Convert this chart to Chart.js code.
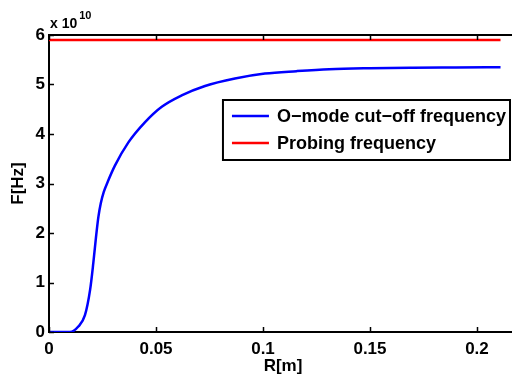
<!DOCTYPE html>
<html>
<head>
<meta charset="utf-8">
<script src="https://cdn.jsdelivr.net/npm/chart.js@4.4.0/dist/chart.umd.min.js"></script>
<style>
  html, body { margin: 0; padding: 0; background: #fff; overflow: hidden; width: 512px; height: 377px; }
  #wrap { position: absolute; left: 0; top: 0; width: 530px; height: 377px; }
</style>
</head>
<body>
<div id="wrap"><canvas id="c" width="530" height="377"></canvas></div>
<script>
// ---- data (x in metres, y in units of 1e10 Hz) ----
const radius = [0, 0.005, 0.0098, 0.0137, 0.0168, 0.0192, 0.0207, 0.022, 0.0231, 0.0242, 0.0256, 0.0275, 0.0308, 0.0371, 0.0449, 0.0527, 0.062, 0.0729, 0.0869, 0.1009, 0.1157, 0.131, 0.15, 0.17, 0.19, 0.211];
const cutoffFreq = [0, 0, 0, 0.11, 0.34, 0.85, 1.39, 1.93, 2.33, 2.60, 2.83, 3.04, 3.36, 3.83, 4.24, 4.55, 4.78, 4.97, 5.12, 5.22, 5.27, 5.31, 5.33, 5.34, 5.345, 5.35];
const probeRadius = [0, 0.211];
const probeFreq = [5.9, 5.9];
const seriesLabels = ['O\u2212mode cut\u2212off frequency', 'Probing frequency'];
const xTicks = [0, 0.05, 0.1, 0.15, 0.2];
const yTicks = [0, 1, 2, 3, 4, 5, 6];
const exponentLabel = ['x 10', '10'];
const SCALE = 1e10;

const FONT = '"Liberation Sans", Arial, Helvetica, sans-serif';
const TICK_SIZE = 17;

const toPts = (xs, ys) => xs.map((x, i) => ({ x: x, y: ys[i] * SCALE }));

const inwardTicks = {
  id: 'inwardTicks',
  afterDraw(chart) {
    const ctx = chart.ctx, ca = chart.chartArea;
    const xs = chart.scales.x, ys = chart.scales.y;
    ctx.save();
    ctx.strokeStyle = '#000';
    ctx.lineWidth = 2;
    ctx.beginPath();
    ctx.moveTo(ca.left - 1, ca.top);
    ctx.lineTo(ca.right, ca.top);
    ctx.stroke();
    const L = 5;
    ctx.lineWidth = 1.5;
    xTicks.forEach(v => {
      const px = Math.round(xs.getPixelForValue(v)) + 0.5;
      ctx.beginPath();
      ctx.moveTo(px, ca.bottom); ctx.lineTo(px, ca.bottom - L);
      ctx.moveTo(px, ca.top); ctx.lineTo(px, ca.top + L);
      ctx.stroke();
    });
    yTicks.forEach(v => {
      const py = Math.round(ys.getPixelForValue(v * SCALE)) + 0.5;
      ctx.beginPath();
      ctx.moveTo(ca.left, py); ctx.lineTo(ca.left + L, py);
      ctx.stroke();
    });
    ctx.fillStyle = '#000';
    ctx.textBaseline = 'alphabetic';
    ctx.textAlign = 'left';
    ctx.font = 'bold 14px ' + FONT;
    ctx.fillText(exponentLabel[0], ca.left + 1, ca.top - 7);
    const w = ctx.measureText(exponentLabel[0]).width;
    ctx.font = 'bold 11px ' + FONT;
    ctx.fillText(exponentLabel[1], ca.left + 1 + w + 2, ca.top - 16);
    ctx.restore();
  }
};

const boxLegend = {
  id: 'boxLegend',
  afterDraw(chart) {
    const ctx = chart.ctx, ca = chart.chartArea;
    ctx.save();
    ctx.font = 'bold 18px ' + FONT;
    const right = 510, top = ca.top + 65;
    const rowH = 27;
    const textW = Math.max(...chart.data.datasets.map(d => ctx.measureText(d.label).width));
    const boxW = Math.max(285, 9 + 37 + 8 + textW + 4);
    const boxH = 60;
    const left = right - boxW;
    ctx.fillStyle = '#fff';
    ctx.fillRect(left, top, boxW, boxH);
    ctx.strokeStyle = '#000';
    ctx.lineWidth = 2;
    ctx.strokeRect(left, top, boxW, boxH);
    chart.data.datasets.forEach((d, i) => {
      const y = top + 16 + i * rowH;
      ctx.strokeStyle = d.borderColor;
      ctx.lineWidth = 2.5;
      ctx.beginPath();
      ctx.moveTo(left + 9, y); ctx.lineTo(left + 46, y);
      ctx.stroke();
      ctx.fillStyle = '#000';
      ctx.textBaseline = 'middle';
      ctx.fillText(d.label, left + 54, y + 1);
    });
    ctx.restore();
  }
};

new Chart(document.getElementById('c'), {
  type: 'line',
  data: {
    datasets: [
      { label: seriesLabels[0], data: toPts(radius, cutoffFreq), borderColor: '#0000ff', borderWidth: 2.5, pointRadius: 0, cubicInterpolationMode: 'monotone', fill: false },
      { label: seriesLabels[1], data: toPts(probeRadius, probeFreq), borderColor: '#ff0000', borderWidth: 2.5, pointRadius: 0, fill: false }
    ]
  },
  options: {
    responsive: false,
    animation: false,
    events: [],
    layout: { padding: { left: 0, top: 35, right: 13, bottom: 0 } },
    plugins: { legend: { display: false }, tooltip: { enabled: false } },
    scales: {
      x: {
        type: 'linear', min: 0, max: 0.2187,
        afterBuildTicks: s => { s.ticks = xTicks.map(v => ({ value: v })); },
        afterFit: s => { s.height = 45; },
        grid: { drawOnChartArea: false, drawTicks: false },
        border: { display: true, color: '#000', width: 2 },
        ticks: { color: '#000', padding: 7, maxRotation: 0, autoSkip: false, font: { family: FONT, size: TICK_SIZE, weight: 'bold' }, callback: v => String(v) },
        title: { display: true, text: 'R[m]', color: '#000', padding: { top: 0, bottom: 0 }, font: { family: FONT, size: TICK_SIZE, weight: 'bold' } }
      },
      y: {
        type: 'linear', min: 0, max: 6 * SCALE,
        afterBuildTicks: s => { s.ticks = yTicks.map(v => ({ value: v * SCALE })); },
        afterFit: s => { s.width = 49; },
        grid: { drawOnChartArea: false, drawTicks: false },
        border: { display: true, color: '#000', width: 2 },
        ticks: { color: '#000', padding: 4, autoSkip: false, font: { family: FONT, size: TICK_SIZE, weight: 'bold' }, callback: v => String(Math.round(v / SCALE)) },
        title: { display: true, text: 'F[Hz]', color: '#000', padding: { top: 8, bottom: 0 }, font: { family: FONT, size: TICK_SIZE, weight: 'bold' } }
      }
    }
  },
  plugins: [inwardTicks, boxLegend]
});
</script>
</body>
</html>
